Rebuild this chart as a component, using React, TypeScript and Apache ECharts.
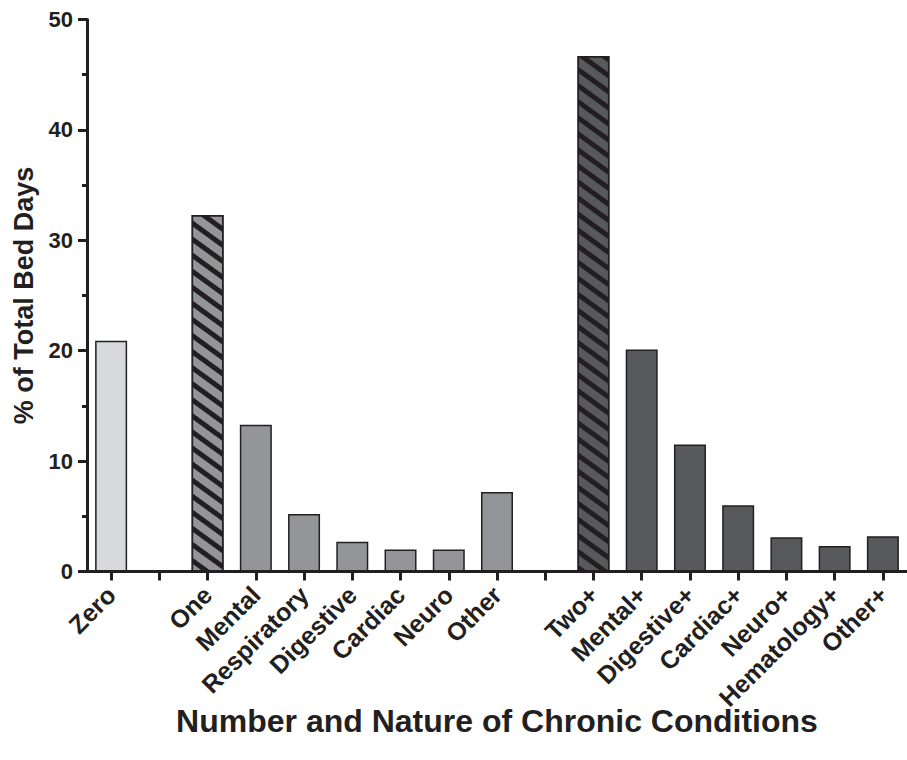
import React, { useEffect, useRef } from "react";
import * as echarts from "echarts";

const categories = [
  "Zero", "", "One", "Mental", "Respiratory", "Digestive", "Cardiac", "Neuro", "Other",
  "", "Two+", "Mental+", "Digestive+", "Cardiac+", "Neuro+", "Hematology+", "Other+",
];
const values: (number | null)[] = [
  20.9, null, 32.3, 13.3, 5.2, 2.7, 2.0, 2.0, 7.2,
  null, 46.7, 20.1, 11.5, 6.0, 3.1, 2.3, 3.2,
];
// group of each category: 0 = none, 1 = one condition, 2 = two or more
const groups = [0, -1, 1, 1, 1, 1, 1, 1, 1, -1, 2, 2, 2, 2, 2, 2, 2];
const hatched = [false, false, true, false, false, false, false, false, false, false, true, false, false, false, false, false, false];
const groupColors = ["#d8d9db", "#939598", "#58595b"];
const yTicks = [0, 10, 20, 30, 40, 50];

const INK = "#231f20";
const FONT = "'Liberation Sans', Arial, Helvetica, sans-serif";

export default function App() {
  const ref = useRef<HTMLDivElement>(null);
  useEffect(() => {
    if (!ref.current) return;
    const chart = echarts.init(ref.current, undefined, { renderer: "svg" });
    const data = values.map((v, i) => {
      if (v === null) return { value: "-" as any };
      const item: any = {
        value: v,
        itemStyle: {
          color: groupColors[groups[i]],
          borderColor: INK,
          borderWidth: 1.5,
        },
      };
      if (hatched[i]) {
        item.itemStyle.decal = {
          symbol: "rect",
          symbolSize: 1,
          dashArrayX: [1, 0],
          dashArrayY: [5, 8],
          rotation: Math.PI / 5,
          color: INK,
        };
      }
      return item;
    });
    chart.setOption({
      animation: false,
      backgroundColor: "#ffffff",
      grid: { left: 87, right: -7, top: 19.5, bottom: 188.5, containLabel: false },
      xAxis: {
        type: "category",
        data: categories,
        boundaryGap: true,
        axisLine: { show: true, lineStyle: { color: INK, width: 3 } },
        axisTick: { show: true, alignWithLabel: true, interval: 0, length: 9, lineStyle: { color: INK, width: 3 } },
        axisLabel: {
          interval: 0,
          rotate: 45,
          margin: 19,
          color: INK,
          fontFamily: FONT,
          fontWeight: "bold",
          fontSize: 25,
        },
        name: "Number and Nature of Chronic Conditions",
        nameLocation: "middle",
        nameGap: 133,
        nameMoveOverlap: false,
        nameTextStyle: { color: INK, fontFamily: FONT, fontWeight: "bold", fontSize: 32 },
      },
      yAxis: {
        type: "value",
        min: yTicks[0],
        max: yTicks[yTicks.length - 1],
        interval: 10,
        splitLine: { show: false },
        axisLine: { show: true, lineStyle: { color: INK, width: 3 } },
        axisTick: { show: true, length: 9, lineStyle: { color: INK, width: 3 } },
        minorTick: { show: true, splitNumber: 2, length: 5, lineStyle: { color: INK, width: 3 } },
        axisLabel: {
          margin: 14,
          color: INK,
          fontFamily: FONT,
          fontWeight: "bold",
          fontSize: 22,
        },
        name: "% of Total Bed Days",
        nameLocation: "middle",
        nameGap: 50,
        nameRotate: 90,
        nameMoveOverlap: false,
        nameTextStyle: { color: INK, fontFamily: FONT, fontWeight: "bold", fontSize: 27 },
      },
      series: [
        {
          type: "bar",
          data,
          barWidth: 32,
        },
      ],
    });
    return () => chart.dispose();
  }, []);
  return (
    <div
      ref={ref}
      style={{ position: "fixed", left: 0, top: 0, width: 907, height: 760, background: "#fff" }}
    />
  );
}
